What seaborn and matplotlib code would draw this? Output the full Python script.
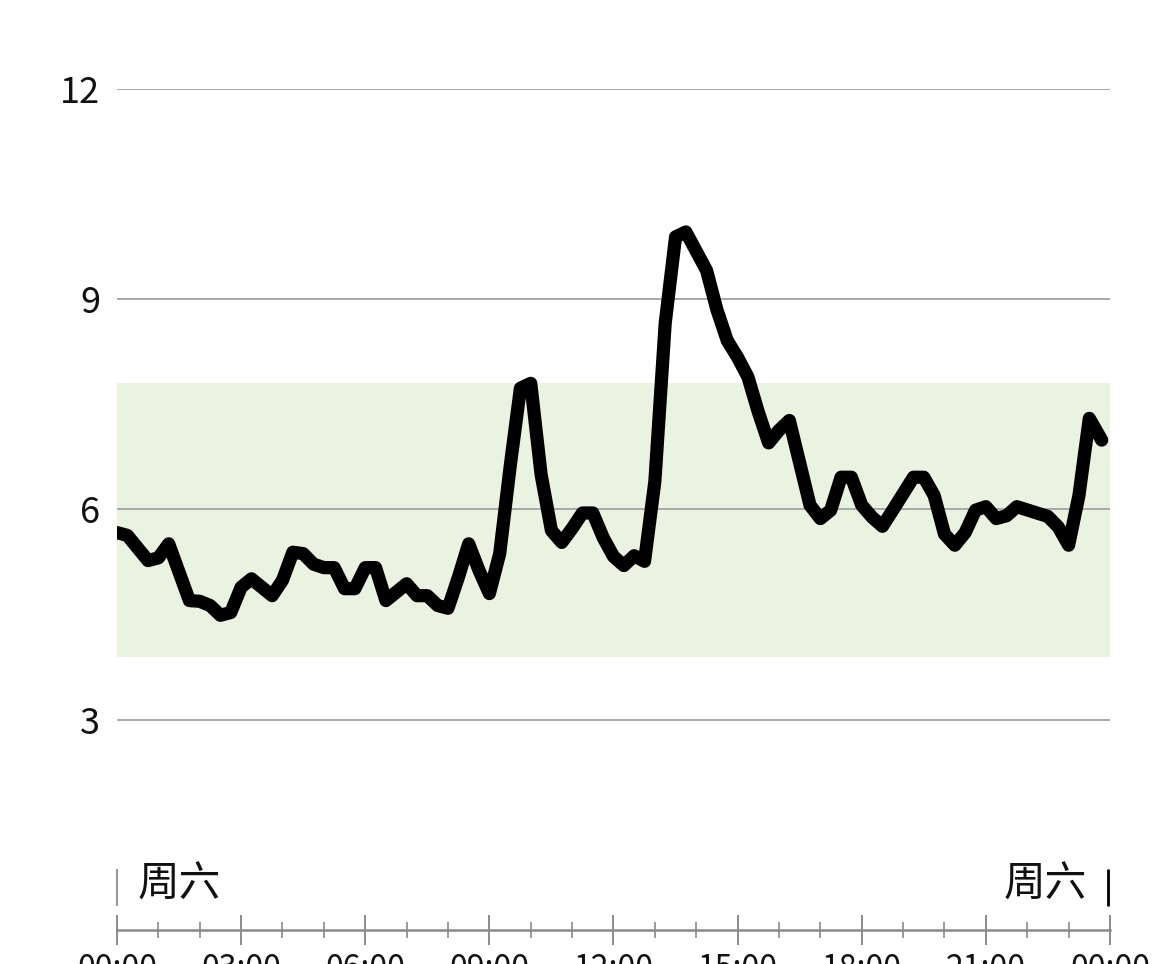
import matplotlib
matplotlib.use("Agg")
import matplotlib.pyplot as plt
import seaborn as sns
import pandas as pd

# readings, hours since midnight -> value
hours = [0.0, 0.25, 0.75, 1.0, 1.25, 1.75, 2.0, 2.25, 2.5, 2.75,
         3.0, 3.25, 3.75, 4.0, 4.25, 4.5, 4.75, 5.0, 5.25, 5.5,
         5.75, 6.0, 6.25, 6.5, 7.0, 7.25, 7.5, 7.75, 8.0, 8.25,
         8.5, 8.75, 9.0, 9.25, 9.5, 9.75, 10.0, 10.25, 10.5, 10.75,
         11.0, 11.25, 11.5, 11.75, 12.0, 12.25, 12.5, 12.75, 13.0, 13.25,
         13.5, 13.75, 14.25, 14.5, 14.75, 15.0, 15.25, 15.5, 15.75, 16.0,
         16.25, 16.75, 17.0, 17.25, 17.5, 17.75, 18.0, 18.25, 18.5, 18.75,
         19.25, 19.5, 19.75, 20.0, 20.25, 20.5, 20.75, 21.0, 21.25, 21.5,
         21.75, 22.5, 22.75, 23.0, 23.25, 23.5, 23.8]
values = [5.67, 5.63, 5.27, 5.31, 5.51, 4.70, 4.69, 4.63, 4.49, 4.53,
          4.89, 5.01, 4.77, 4.99, 5.39, 5.37, 5.22, 5.17, 5.17, 4.87,
          4.87, 5.17, 5.17, 4.70, 4.94, 4.77, 4.77, 4.63, 4.59, 5.03,
          5.51, 5.13, 4.80, 5.37, 6.60, 7.73, 7.80, 6.50, 5.70, 5.53,
          5.73, 5.95, 5.95, 5.60, 5.33, 5.20, 5.34, 5.26, 6.40, 8.66,
          9.89, 9.96, 9.41, 8.85, 8.41, 8.17, 7.89, 7.39, 6.95, 7.13,
          7.27, 6.06, 5.87, 5.99, 6.46, 6.46, 6.06, 5.89, 5.76, 5.99,
          6.46, 6.46, 6.20, 5.65, 5.49, 5.67, 5.99, 6.04, 5.87, 5.91,
          6.04, 5.90, 5.75, 5.49, 6.20, 7.30, 6.99]

target_low, target_high = 3.9, 7.8
y_ticks = [3, 6, 9, 12]
major_hours = list(range(0, 25, 3))
tick_labels = ["00:00", "03:00", "06:00", "09:00", "12:00", "15:00", "18:00", "21:00", "00:00"]
day_label = "周六"

df = pd.DataFrame({"hour": hours, "value": values})

sns.set_theme(style="white")
plt.rcParams["font.family"] = ["Noto Sans CJK SC", "DejaVu Sans"]

fig = plt.figure(figsize=(11.7, 9.64), dpi=100)
ax = fig.add_axes([0.1, 0.0353, 0.8487, 0.8724])

# target range band
ax.axhspan(target_low, target_high, color="#eaf2e1", zorder=0, lw=0)
for v in y_ticks:
    ax.axhline(v, color="#a8a8a8", lw=1.4, zorder=1)

sns.lineplot(data=df, x="hour", y="value", color="black", linewidth=9.5,
             solid_capstyle="round", solid_joinstyle="round", ax=ax, zorder=3)

ax.set_xlim(0, 24)
ax.set_ylim(0, 12)
ax.set_yticks(y_ticks)
ax.set_yticklabels([str(v) for v in y_ticks], fontsize=26, color="#111111")
ax.tick_params(axis="y", length=0, pad=12)

ax.set_xticks(major_hours)
ax.set_xticklabels(tick_labels, fontsize=23, color="#111111")
ax.set_xticks(range(25), minor=True)
ax.tick_params(axis="x", which="both", bottom=True)
ax.tick_params(axis="x", which="major", direction="inout", length=21.6,
               width=1.4, color="#8a8a8a", pad=6)
ax.tick_params(axis="x", which="minor", direction="inout", length=11.5,
               width=1.2, color="#8a8a8a")
ax.set_xlabel("")
ax.set_ylabel("")

for side in ["top", "left", "right"]:
    ax.spines[side].set_visible(False)
ax.spines["bottom"].set_color("#8a8a8a")
ax.spines["bottom"].set_linewidth(1.8)

# day markers
ax.vlines(0, 0.34, 0.87, color="#999999", lw=1.5, clip_on=False)
ax.vlines(23.95, 0.34, 0.87, color="black", lw=2, clip_on=False)
ax.text(0.5, 0.64, day_label, fontsize=30, ha="left", va="center", color="#111111")
ax.text(23.45, 0.64, day_label, fontsize=30, ha="right", va="center", color="#111111")

plt.savefig("out.png", dpi=100)
plt.close()
